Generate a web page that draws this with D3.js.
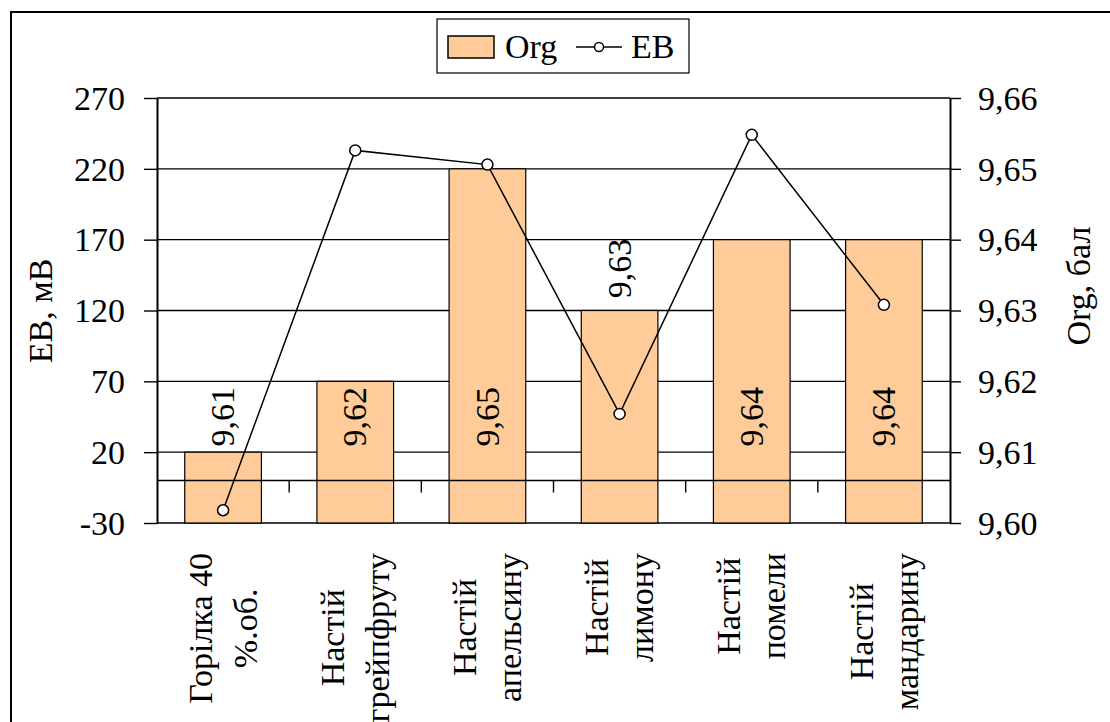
<!DOCTYPE html>
<html>
<head>
<meta charset="utf-8">
<script src="https://cdn.jsdelivr.net/npm/d3@7"></script>
<style>
  body { margin: 0; background: #fff; }
</style>
</head>
<body>
<div class="canvas"></div>
<script>

// data
const categoryLines = [
    ['Горілка 40', '%.об.'],
    ['Настій', 'грейпфруту'],
    ['Настій', 'апельсину'],
    ['Настій', 'лимону'],
    ['Настій', 'помели'],
    ['Настій', 'мандарину']
];
const categories = categoryLines.map(l => l.join(' '));
const orgValues = [9.61, 9.62, 9.65, 9.63, 9.64, 9.64];
const ebValues = [-21, 233, 223, 47, 244, 124];
const leftTicks = [-30, 20, 70, 120, 170, 220, 270];
const rightTicks = [9.60, 9.61, 9.62, 9.63, 9.64, 9.65, 9.66];

const width = 1110, height = 722;
const plot = { left: 157, right: 950, top: 98, bottom: 523 };
const FONT = "'Liberation Serif', Tinos, 'Times New Roman', serif";

const svg = d3.select('.canvas')
    .append('svg')
        .attr('width', width)
        .attr('height', height)
        .attr('font-family', FONT)
        .attr('font-size', 34);

// outer chart border (runs past the picture edge)
svg.append('rect')
    .attr('x', 11).attr('y', 12)
    .attr('width', 1130).attr('height', 740)
    .attr('fill', 'none')
    .attr('stroke', '#000')
    .attr('stroke-width', 2);

// scales
const x = d3.scaleBand()
    .domain(categories)
    .range([plot.left, plot.right])
    .paddingInner(0.42)
    .paddingOuter(0.21);
const yLeft = d3.scaleLinear().domain([-30, 270]).range([plot.bottom, plot.top]);
const yRight = d3.scaleLinear().domain([9.60, 9.66]).range([plot.bottom, plot.top]);
const cx = d => x(d) + x.bandwidth() / 2;
const fmt = d => d.toFixed(2).replace('.', ',');

// gridlines
svg.append('g').selectAll('line')
    .data(leftTicks)
    .enter().append('line')
        .attr('x1', plot.left).attr('x2', plot.right)
        .attr('y1', d => yLeft(d)).attr('y2', d => yLeft(d))
        .attr('stroke', '#000')
        .attr('stroke-width', 1.4);

// bars (Org on the right axis)
svg.append('g').selectAll('rect')
    .data(orgValues)
    .enter().append('rect')
        .attr('x', (d, i) => x(categories[i]))
        .attr('width', x.bandwidth())
        .attr('y', d => yRight(d))
        .attr('height', d => yRight.range()[0] - yRight(d))
        .attr('fill', '#FFCC99')
        .attr('stroke', '#000')
        .attr('stroke-width', 1.2);

// category axis crossing at 0
const zeroY = yLeft(0);
svg.append('line')
    .attr('x1', plot.left).attr('x2', plot.right)
    .attr('y1', zeroY).attr('y2', zeroY)
    .attr('stroke', '#000')
    .attr('stroke-width', 1.4);
svg.append('g').selectAll('line')
    .data(categories.slice(1))
    .enter().append('line')
        .attr('x1', d => x(d) - x.step() * x.paddingInner() / 2)
        .attr('x2', d => x(d) - x.step() * x.paddingInner() / 2)
        .attr('y1', zeroY).attr('y2', zeroY + 12)
        .attr('stroke', '#000')
        .attr('stroke-width', 1.4);

// axes
const leftAxis = d3.axisLeft(yLeft)
    .tickValues(leftTicks)
    .tickSize(13)
    .tickSizeOuter(0)
    .tickPadding(19)
    .tickFormat(d => String(d));
const rightAxis = d3.axisRight(yRight)
    .tickValues(rightTicks)
    .tickSize(11)
    .tickSizeOuter(0)
    .tickPadding(17)
    .tickFormat(fmt);

const leftG = svg.append('g')
    .attr('transform', `translate(${plot.left}, 0)`)
    .call(leftAxis);
const rightG = svg.append('g')
    .attr('transform', `translate(${plot.right}, 0)`)
    .call(rightAxis);

[leftG, rightG].forEach(g => {
    g.attr('font-family', FONT).attr('font-size', 34);
    g.select('.domain').attr('stroke', '#000').attr('stroke-width', 2);
    g.selectAll('.tick line').attr('stroke', '#000').attr('stroke-width', 1.4);
    g.selectAll('text').attr('fill', '#000').attr('dy', '0.33em');
});

// axis titles
svg.append('text')
    .attr('transform', 'translate(41, 311) rotate(-90)')
    .attr('text-anchor', 'middle')
    .attr('dy', '0.33em')
    .text('EB, мВ');
svg.append('text')
    .attr('transform', 'translate(1079, 286) rotate(-90)')
    .attr('text-anchor', 'middle')
    .attr('dy', '0.33em')
    .text('Org, бал');

// category labels, rotated, lines centred within the block
const labelTop = 553;
const lineGap = 45;
const catG = svg.append('g');
categoryLines.forEach((lines, i) => {
    const texts = lines.map(t => catG.append('text').text(t));
    const maxLen = d3.max(texts, t => t.node().getComputedTextLength());
    const c = cx(categories[i]);
    texts.forEach((t, j) => {
        const off = (j - (lines.length - 1) / 2) * lineGap;
        t.attr('transform', `translate(${c + off}, ${labelTop + maxLen / 2}) rotate(-90)`)
            .attr('text-anchor', 'middle')
            .attr('dy', '0.33em');
    });
});

// EB line with hollow markers
const line = d3.line()
    .x((d, i) => cx(categories[i]))
    .y(d => yLeft(d));

svg.append('path')
    .datum(ebValues)
    .attr('fill', 'none')
    .attr('stroke', '#000')
    .attr('stroke-width', 1.5)
    .attr('d', line);

svg.append('g').selectAll('circle')
    .data(ebValues)
    .enter().append('circle')
        .attr('cx', (d, i) => cx(categories[i]))
        .attr('cy', d => yLeft(d))
        .attr('r', 5.5)
        .attr('fill', '#fff')
        .attr('stroke', '#000')
        .attr('stroke-width', 1.5);

// bar value labels: most sit in a common band, 9,63 was dragged above its bar
const outsideLabel = new Set([3]);
svg.append('g').selectAll('text')
    .data(orgValues)
    .enter().append('text')
        .attr('transform', (d, i) => {
            const ly = outsideLabel.has(i) ? yRight(d) - 42 : yRight(9.615);
            return `translate(${cx(categories[i])}, ${ly}) rotate(-90)`;
        })
        .attr('text-anchor', 'middle')
        .attr('dy', '0.33em')
        .text(fmt);

// legend
const legend = svg.append('g');
legend.append('rect')
    .attr('x', 437).attr('y', 19)
    .attr('width', 252).attr('height', 54)
    .attr('fill', '#fff')
    .attr('stroke', '#000')
    .attr('stroke-width', 1.2);
legend.append('rect')
    .attr('x', 448).attr('y', 36)
    .attr('width', 46).attr('height', 22)
    .attr('fill', '#FFCC99')
    .attr('stroke', '#000')
    .attr('stroke-width', 1.5);
legend.append('text')
    .attr('x', 505).attr('y', 47)
    .attr('dy', '0.33em')
    .text('Org');
legend.append('line')
    .attr('x1', 576).attr('x2', 622)
    .attr('y1', 47).attr('y2', 47)
    .attr('stroke', '#000')
    .attr('stroke-width', 1.5);
legend.append('circle')
    .attr('cx', 599).attr('cy', 47).attr('r', 4.5)
    .attr('fill', '#fff')
    .attr('stroke', '#000')
    .attr('stroke-width', 1.5);
legend.append('text')
    .attr('x', 631).attr('y', 47)
    .attr('dy', '0.33em')
    .text('EB');

</script>
</body>
</html>
